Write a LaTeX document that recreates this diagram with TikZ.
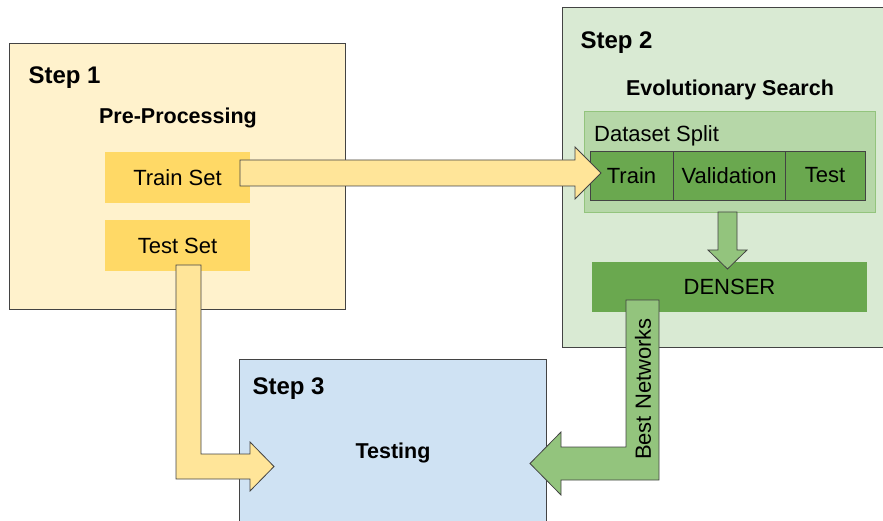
\documentclass[tikz,border=0pt]{standalone}
\usepackage{fontspec}
\setmainfont{Liberation Sans}
\usetikzlibrary{calc}
\definecolor{boxline}{HTML}{434343}
\definecolor{stepyellow}{HTML}{FFF2CC}
\definecolor{setyellow}{HTML}{FFD966}
\definecolor{arrowyellow}{HTML}{FFE599}
\definecolor{stepgreen}{HTML}{D9EAD3}
\definecolor{splitgreen}{HTML}{B6D7A8}
\definecolor{arrowgreen}{HTML}{93C47D}
\definecolor{cellgreen}{HTML}{6AA84F}
\definecolor{stepblue}{HTML}{CFE2F3}

\begin{document}
\begin{tikzpicture}[x=1pt, y=-1pt]
    \tikzset{
      stepbox/.style={draw=boxline, line width=0.8pt, anchor=north west, inner sep=0pt, outer sep=0pt},
      setbox/.style={fill=setyellow, anchor=north west, inner sep=0pt, outer sep=0pt},
      cell/.style={draw=boxline, line width=0.8pt, fill=cellgreen, anchor=north west, inner sep=0pt, outer sep=0pt, minimum height=49pt},
      steplabel/.style={anchor=base west, font=\fontsize{24}{28}\selectfont\bfseries},
      title/.style={anchor=base, font=\fontsize{21.5}{25}\selectfont\bfseries},
      plain/.style={font=\fontsize{22}{26}\selectfont},
      fatarrow/.style={draw=boxline, line width=0.8pt, line join=miter}
    }
    \useasboundingbox (0,0) rectangle (883,521);
    \clip (0,0) rectangle (883,521);

    % step 1
    \node (step1) [stepbox, fill=stepyellow, minimum width=335.5pt, minimum height=265.5pt] at (9.5,43.5) {};
    \node (step1lbl) [steplabel] at (25,84) {Step 1};
    \node (preproc) [title] at (178,124) {Pre-Processing};
    \node (trainset) [setbox, plain, minimum width=145pt, minimum height=51pt] at (105,152) {Train Set};
    \node (testset) [setbox, plain, minimum width=145pt, minimum height=51pt] at (105,220) {Test Set};

    % step 2
    \node (step2) [stepbox, fill=stepgreen, minimum width=322pt, minimum height=339.5pt] at (562,7.5) {};
    \node (step2lbl) [steplabel] at (577,49) {Step 2};
    \node (evo) [title] at (730,96) {Evolutionary Search};
    \node (split) [draw=arrowgreen, line width=0.8pt, fill=splitgreen, anchor=north west, inner sep=0pt, outer sep=0pt,
      minimum width=291pt, minimum height=101pt] at (584,111) {};
    \node (splitlbl) [plain, anchor=base west, inner sep=0pt] at (594,142) {Dataset Split};
    \node (train) [cell, plain, minimum width=83pt] at (590,151) {Train};
    \node (valid) [cell, plain, minimum width=112pt] at (673,151) {Validation};
    \node (test) [cell, plain, minimum width=80pt] at (785,151) {Test};
    \node (denser) [fill=cellgreen, plain, anchor=north west, inner sep=0pt, outer sep=0pt,
      minimum width=275pt, minimum height=50pt] at (592,262) {DENSER};

    % step 3
    \node (step3) [stepbox, fill=stepblue, minimum width=307pt, minimum height=171pt] at (239,359) {};
    \node (step3lbl) [steplabel] at (249,394) {Step 3};
    \node (testing) [title] at (393,458) {Testing};

    % train set -> train
    \coordinate (trainfrom) at ($(trainset.east)+(-10,-4.5)$);
    \coordinate (trainto) at ($(train.west)+(11,-2.5)$);
    \draw[fatarrow, fill=arrowyellow] ($(trainfrom)+(0,-13)$) -- ($(trainto)+(-26,-13)$) -- ($(trainto)+(-26,-26)$)
      -- (trainto) -- ($(trainto)+(-26,26)$) -- ($(trainto)+(-26,13)$) -- ($(trainfrom)+(0,13)$) -- cycle;

    % dataset split -> denser
    \coordinate (downfrom) at ($(split.south)+(-2,0)$);
    \coordinate (downto) at ($(denser.north)+(-2,7)$);
    \draw[fatarrow, fill=arrowgreen] ($(downfrom)+(-9.5,0)$) -- ($(downto)+(-9.5,-19)$) -- ($(downto)+(-19.5,-19)$)
      -- (downto) -- ($(downto)+(19.5,-19)$) -- ($(downto)+(9.5,-19)$) -- ($(downfrom)+(9.5,0)$) -- cycle;

    % test set -> testing
    \coordinate (testfrom) at ($(testset.south)+(11,-6)$);
    \coordinate (testto) at ($(step3.west)+(35,22)$);
    \coordinate (testbend) at (testfrom |- testto);
    \draw[fatarrow, fill=arrowyellow] ($(testfrom)+(-12.5,0)$) -- ($(testfrom)+(12.5,0)$) -- ($(testbend)+(12.5,-12.5)$)
      -- ($(testto)+(-24,-12.5)$) -- ($(testto)+(-24,-24.5)$) -- (testto) -- ($(testto)+(-24,24.5)$)
      -- ($(testto)+(-24,12.5)$) -- ($(testbend)+(-12.5,12.5)$) -- cycle;

    % denser -> testing
    \coordinate (bestfrom) at ($(denser.south)+(-87,-12)$);
    \coordinate (bestto) at ($(step3.east)+(-16,19)$);
    \coordinate (bestbend) at (bestfrom |- bestto);
    \draw[fatarrow, fill=arrowgreen] ($(bestfrom)+(-16.5,0)$) -- ($(bestfrom)+(16.5,0)$) -- ($(bestbend)+(16.5,16.5)$)
      -- ($(bestto)+(31,16.5)$) -- ($(bestto)+(31,31.5)$) -- (bestto) -- ($(bestto)+(31,-31.5)$)
      -- ($(bestto)+(31,-16.5)$) -- ($(bestbend)+(-16.5,-16.5)$) -- cycle;
    \node (bestlbl) [plain, rotate=90, inner sep=0pt] at (643,389) {Best Networks};

  \end{tikzpicture}
\end{document}
